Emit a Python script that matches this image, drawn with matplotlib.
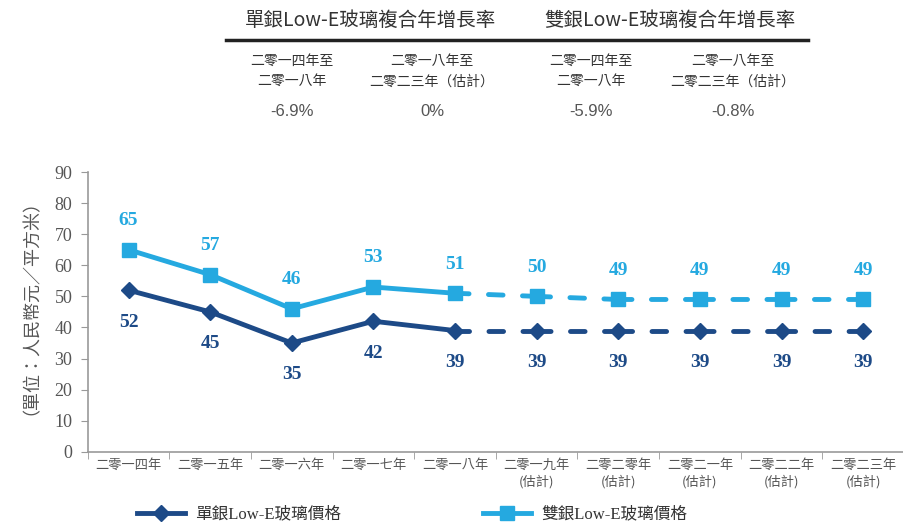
import numpy as np
import matplotlib.pyplot as plt
from matplotlib.lines import Line2D

plt.rcParams['font.family'] = ['Noto Sans CJK TC', 'DejaVu Sans']

categories = ['二零一四年', '二零一五年', '二零一六年', '二零一七年', '二零一八年',
              '二零一九年\n(估計)', '二零二零年\n(估計)', '二零二一年\n(估計)',
              '二零二二年\n(估計)', '二零二三年\n(估計)']
single = [52, 45, 35, 42, 39, 39, 39, 39, 39, 39]
double = [65, 57, 46, 53, 51, 50, 49, 49, 49, 49]
actual_n = 5

dark = '#1d4a87'
light = '#25a9e0'
grey = '#555555'

fig = plt.figure(figsize=(9.04, 5.26), dpi=100)
ax = fig.add_axes([0.097, 0.141, 0.903, 0.532])
x = np.arange(len(categories))

# dash pattern in linewidth units: long dash through each marker, short one between
dashes = (5.77, 4.0, 3.0, 4.0)
for vals, col, mk, ms in [(single, dark, 'D', 8), (double, light, 's', 10)]:
    ax.plot(x[:actual_n], vals[:actual_n], color=col, lw=3.5, marker=mk, ms=ms, zorder=3)
    ax.plot(x[actual_n - 1:], vals[actual_n - 1:], color=col, lw=3.5,
            ls=(dashes[0] / 2, dashes), dash_capstyle='round', zorder=2)
    ax.plot(x[actual_n:], vals[actual_n:], color=col, lw=0, marker=mk, ms=ms, zorder=3)

for i in x:
    ax.annotate(str(double[i]), (i, double[i]), xytext=(0, 21), textcoords='offset points',
                ha='center', va='center', color=light, fontsize=14, fontweight='bold',
                family='Liberation Serif')
    ax.annotate(str(single[i]), (i, single[i]), xytext=(0, -23), textcoords='offset points',
                ha='center', va='center', color=dark, fontsize=14, fontweight='bold',
                family='Liberation Serif')

ax.set_xlim(-0.5, len(categories) - 0.5)
ax.set_ylim(0, 90)
ax.set_yticks(np.arange(0, 91, 10))
ax.set_yticklabels([str(v) for v in range(0, 91, 10)], family='Liberation Serif',
                   fontsize=13, color=grey)
ax.set_xticks(x)
ax.set_xticklabels(categories, fontsize=9.5, color=grey, linespacing=1.3)
ax.set_xticks(np.arange(-0.5, len(categories), 1), minor=True)
ax.tick_params(axis='x', which='major', length=0, pad=5)
ax.tick_params(axis='x', which='minor', length=5, color='#999999', direction='out')
ax.tick_params(axis='y', length=5, color='#999999', pad=6)
for s in ['top', 'right']:
    ax.spines[s].set_visible(False)
for s in ['left', 'bottom']:
    ax.spines[s].set_color('#999999')
    ax.spines[s].set_linewidth(1.2)

fig.text(0.024, 0.433, '（單位：人民幣元／平方米）', rotation=90, ha='center', va='center',
         fontsize=13, color=grey)

# CAGR table
headers = ['單銀Low-E玻璃複合年增長率', '雙銀Low-E玻璃複合年增長率']
header_x = [370, 670]
periods = ['二零一四年至\n二零一八年', '二零一八年至\n二零二三年（估計）',
           '二零一四年至\n二零一八年', '二零一八年至\n二零二三年（估計）']
period_x = [292, 432, 591, 733]
rates = ['-6.9%', '0%', '-5.9%', '-0.8%']

W, H = 904, 526
for t, px in zip(headers, header_x):
    fig.text(px / W, 1 - 20 / H, t, ha='center', va='center', fontsize=14, color='#333333')
fig.add_artist(Line2D([226 / W, 808 / W], [1 - 40 / H, 1 - 40 / H], color='#222222', lw=2.5))
for t, r, px in zip(periods, rates, period_x):
    fig.text(px / W, 1 - 71 / H, t, ha='center', va='center', fontsize=10, color='#333333',
             linespacing=1.6)
    fig.text(px / W, 1 - 111 / H, r, ha='center', va='center', fontsize=12, color=grey,
             family='Liberation Sans')

# legend
handles = [Line2D([], [], color=dark, lw=3.5, marker='D', ms=8),
           Line2D([], [], color=light, lw=3.5, marker='s', ms=10)]
leg = fig.legend(handles, ['單銀Low-E玻璃價格', '雙銀Low-E玻璃價格'], loc='center left',
                 bbox_to_anchor=(0.135, 0.022), ncol=2, frameon=False, fontsize=12,
                 handlelength=2.9, columnspacing=8.5, handletextpad=0.6)
for t in leg.get_texts():
    t.set_family(['Liberation Serif', 'Noto Sans CJK TC'])
    t.set_color('#333333')

fig.savefig('out.png', dpi=100)
